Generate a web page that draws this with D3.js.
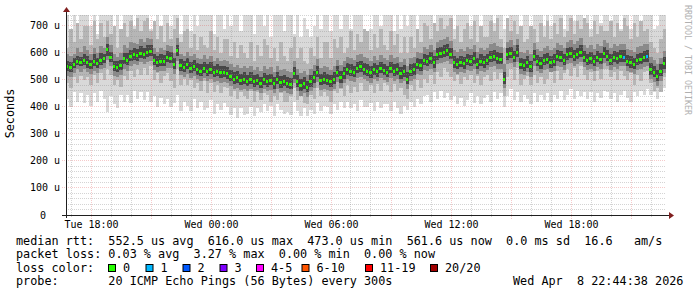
<!DOCTYPE html>
<html><head><meta charset="utf-8">
<script src="https://cdn.jsdelivr.net/npm/d3@7"></script>
<style>
body{margin:0;background:#fff}
svg{display:block}
text{font-family:"DejaVu Sans Mono",monospace;white-space:pre}
</style>
</head><body>
<svg id="c" width="697" height="297"></svg>
<script>
// ---- data: one value per 10-minute step, Tue 16:45 .. Wed 22:45 (microseconds) ----
const med = [
550,548,560,572,568,575, 565,558,570,562,575,580, 616,585,552,548,556,580, 575,590,596,592,600,598,
605,608,575,568,572,570, 585,582,560,610,555,548, 560,545,552,540,535,545, 535,542,530,535,528,530,
525,515,505,510,500,505, 498,505,495,500,490,502, 495,500,488,505,492,498, 490,485,527,495,480,488,
475,495,510,530,500,505, 500,495,505,530,510,525, 540,535,530,545,550,540, 535,528,540,532,545,538,
530,545,535,540,525,532, 505,535,540,560,555,575, 570,580,565,595,600,605, 610,598,565,560,568,562,
575,570,580,560,572,565, 575,585,590,580,578,505, 595,600,585,605,560,555, 565,550,590,570,562,575,
578,565,572,590,585,575, 595,600,590,598,605,585, 575,580,570,585,578,600, 590,575,585,580,588,587,
570,565,560,575,578,585, 588,540,530,515,535,562];
const coreHi = [
570,565,582,590,585,598, 588,575,595,580,600,598, 635,605,572,570,575,600, 600,612,620,615,625,620,
628,630,598,590,595,592, 608,605,582,630,578,570, 582,568,575,562,558,568, 558,565,552,558,550,552,
548,538,528,532,522,528, 520,528,518,522,512,525, 518,522,510,528,515,520, 512,508,548,518,502,510,
498,518,532,552,522,528, 522,518,528,552,532,548, 562,558,552,568,572,562, 558,550,562,555,568,560,
552,568,558,562,548,555, 530,558,562,582,578,598, 592,602,588,618,622,628, 632,620,588,582,590,585,
598,592,602,582,595,588, 598,608,612,602,600,530, 618,622,608,628,582,578, 588,572,612,592,585,598,
600,588,595,612,608,598, 618,622,612,620,628,608, 598,602,592,608,600,622, 612,598,608,602,610,610,
592,588,582,598,600,608, 610,562,552,538,558,585];
const coreLo = [
532,530,545,555,550,556, 545,540,552,545,555,562, 590,565,535,530,538,560, 555,570,575,572,580,578,
585,588,555,548,552,550, 565,562,540,588,535,530, 540,525,532,520,515,525, 515,522,510,515,508,510,
505,495,485,490,480,485, 478,485,475,480,470,482, 475,480,468,485,472,478, 470,465,505,475,460,468,
455,475,490,510,480,485, 480,475,485,510,490,505, 520,515,510,525,530,520, 515,508,520,512,525,518,
510,525,515,520,505,512, 485,515,520,540,535,555, 550,560,545,575,580,585, 590,578,545,540,548,542,
555,550,560,540,552,545, 555,565,570,560,558,485, 575,580,565,585,540,535, 545,530,570,550,542,555,
558,545,552,570,565,555, 575,580,570,578,585,565, 555,560,550,565,558,580, 570,555,565,560,568,567,
550,545,540,555,558,565, 568,520,510,495,515,542];
const quartHi = [
595,590,598,620,605,625, 610,595,620,600,625,618, 660,630,595,585,600,628, 620,640,638,635,650,640,
655,650,620,605,618,612, 630,625,600,655,598,590, 605,588,598,580,578,592, 578,590,572,582,570,575,
572,558,548,555,545,552, 545,550,538,548,535,550, 540,548,530,552,538,542, 535,530,572,540,525,532,
520,540,555,578,545,550, 548,538,552,575,555,570, 585,580,575,592,598,585, 582,572,588,575,592,582,
575,592,580,585,568,578, 552,580,585,605,600,622, 615,628,610,642,648,652, 658,645,612,605,615,608,
622,615,628,605,618,610, 620,632,638,625,622,560, 642,648,630,652,605,600, 610,595,638,615,608,620,
625,610,618,638,630,620, 642,648,635,645,655,630, 620,628,615,632,625,648, 638,620,632,625,635,632,
615,610,605,622,625,632, 635,585,575,560,582,608];
const quartLo = [
515,510,525,540,530,540, 528,522,535,525,540,545, 575,550,515,510,520,542, 535,552,560,555,565,560,
565,570,538,530,535,532, 545,545,522,570,518,510, 522,508,515,502,498,508, 498,505,492,498,490,494,
488,478,468,472,462,468, 460,468,458,462,452,465, 458,462,450,468,455,460, 452,448,490,458,442,450,
438,458,472,492,462,468, 462,458,468,492,472,488, 502,498,492,508,512,502, 498,490,502,495,508,500,
492,508,498,502,488,495, 468,498,502,522,518,538, 532,542,528,558,562,568, 572,560,528,522,530,525,
538,532,542,522,535,528, 538,548,552,542,540,470, 558,562,548,568,522,518, 528,512,552,532,525,538,
540,528,535,552,548,538, 558,562,552,560,568,548, 538,542,532,548,540,562, 552,538,548,542,550,550,
532,528,522,538,540,548, 550,502,492,478,498,525];
const midHi = [
620,690,640,710,650,700, 700,630,720,650,710,660, 720,670,700,620,690,710, 660,720,690,730,680,720,
730,680,720,650,700,640, 710,650,690,730,640,680, 690,620,670,610,660,630, 620,680,610,660,600,650,
650,590,640,580,630,600, 580,640,570,630,590,650, 630,580,620,570,640,590, 570,620,660,580,620,570,
560,620,590,660,580,640, 640,580,650,620,660,600, 620,680,610,670,640,690, 680,610,670,620,690,630,
610,680,630,670,600,660, 600,660,620,690,640,710, 700,650,710,680,730,690, 700,730,650,700,640,690,
710,650,720,640,700,660, 660,720,680,730,650,620, 730,680,720,670,700,640, 650,700,690,640,710,660,
720,650,710,670,730,660, 680,730,670,720,690,730, 710,660,720,670,700,680, 680,720,660,710,680,730,
700,650,710,660,720,680, 690,640,620,600,650,690];
const midLo = [
490,470,510,490,515,500, 510,480,520,490,525,500, 540,520,480,500,475,515, 500,535,510,540,520,545,
520,550,500,525,490,515, 525,495,470,540,480,505, 480,500,470,490,460,495, 450,490,455,480,450,475,
470,440,460,430,455,440, 430,460,420,455,425,450, 445,420,440,425,450,420, 420,440,470,425,440,415,
410,445,430,470,440,455, 440,420,460,450,465,440, 480,450,475,455,490,460, 460,480,450,485,460,490,
480,455,485,460,470,445, 430,480,460,500,470,505, 490,520,485,530,510,545, 530,510,495,520,485,510,
500,520,490,515,480,510, 520,495,530,505,525,440, 510,540,500,545,480,505, 515,480,520,490,510,485,
505,530,490,535,500,525, 540,515,545,510,550,520, 500,530,495,535,505,540, 540,510,530,500,535,515,
500,525,480,520,495,530, 535,490,460,470,455,510];
const maxPing = [
760,680,790,690,745,800, 780,700,810,670,740,790, 800,770,690,750,670,780, 770,800,700,740,790,810,
820,690,700,770,680,760, 780,700,800,740,670,750, 770,680,760,700,745,780, 760,790,670,770,750,690,
770,700,760,790,680,780, 750,780,670,760,790,700, 770,660,760,800,745,680, 740,780,670,760,660,730,
690,660,700,760,690,770, 750,680,780,760,690,800, 780,690,770,810,760,680, 670,690,760,790,700,770,
760,790,680,770,690,750, 700,760,780,690,790,800, 790,810,700,800,780,820, 810,790,690,780,740,770,
780,700,800,750,680,790, 770,800,710,760,780,690, 700,790,810,770,700,800, 780,690,800,770,790,700,
800,700,790,810,760,690, 790,810,720,800,820,700, 780,690,790,810,710,800, 790,700,800,760,690,810,
770,690,780,790,700,800, 780,760,690,700,750,770];
const minPing = [
430,400,455,420,450,415, 445,405,450,420,460,430, 380,440,410,395,445,420, 445,415,460,430,455,425,
455,420,440,400,435,410, 430,400,415,445,385,420, 405,385,430,395,420,390, 395,425,375,410,390,415,
400,370,395,360,395,370, 375,400,365,395,380,410, 385,405,365,410,390,375, 380,370,420,385,365,395,
365,390,375,415,385,405, 400,375,410,390,420,395, 420,395,410,385,425,400, 400,415,385,420,395,410,
410,385,420,395,375,405, 390,420,400,430,410,440, 445,420,455,430,460,435, 450,425,440,410,435,405,
425,450,415,440,410,435, 445,420,455,430,450,400, 440,465,425,455,420,445, 430,410,450,420,445,425,
450,420,445,430,460,425, 445,465,430,460,440,455, 430,455,420,450,435,460, 455,430,450,420,445,460,
435,420,455,440,460,445, 465,445,455,430,460,470];
const lossSteps  = [167, 174];
const lossCounts = [1, 1];
const yTickValues = [0,100,200,300,400,500,600,700];
const yTickLabels = ["0","100 u","200 u","300 u","400 u","500 u","600 u","700 u"];
const lossLabels = ["0","1","2","3","4-5","6-10","11-19","20/20"];
const lossColors = ["#26ff00","#00b8ff","#0059ff","#7e00ff","#ff00ff","#ff5500","#ff0000","#a00000"];
const lossUpper  = [0,1,2,3,5,10,19,20];
const legendLines = [
 "median rtt:  552.5 us avg  616.0 us max  473.0 us min  561.6 us now  0.0 ms sd  16.6   am/s",
 "packet loss: 0.03 % avg  3.27 % max  0.00 % min  0.00 % now",
 "loss color:",
 "probe:       20 ICMP Echo Pings (56 Bytes) every 300s"
];
const stampText = "Wed Apr  8 22:44:38 2026";
const watermark = "RRDTOOL / TOBI OETIKER";
const yTitle = "Seconds";

// ---- layout ----
const L=66, R=666, T=15, B=215;
const t0 = new Date(2026,3,7,16,45,0);
const stepMs = 10*60*1000;
const n = med.length;
const t1 = new Date(+t0 + n*stepMs);
const x = d3.scaleTime().domain([t0,t1]).range([L,R]);
const y = d3.scaleLinear().domain([0,740.7]).range([B,T]);
const svg = d3.select("#c");
svg.append("rect").attr("width",697).attr("height",297).attr("fill","#fff");
svg.append("clipPath").attr("id","pc").append("rect").attr("x",L).attr("y",T).attr("width",R-L).attr("height",B-T);
const g = svg.append("g").attr("clip-path","url(#pc)").attr("shape-rendering","crispEdges");
const times = d3.range(n+1).map(i=>new Date(+t0+i*stepMs));
const k = i=>Math.min(i,n-1);
function band(lo,hi,color){
  const a = d3.area().curve(d3.curveStepAfter)
    .x(i=>x(times[i])).y0(i=>y(lo[k(i)])).y1(i=>y(hi[k(i)]));
  g.append("path").attr("d",a(d3.range(n+1))).attr("fill",color);
}
band(minPing,maxPing,"#d9d9d9");
band(midLo,midHi,"#b6b6b6");
band(quartLo,quartHi,"#8a8a8a");
band(coreLo,coreHi,"#474747");
// median
function lossColor(i){
  const j = lossSteps.indexOf(i);
  if(j<0) return lossColors[0];
  const c = lossCounts[j];
  return lossColors[lossUpper.findIndex(u=>c<=u)];
}
g.selectAll("rect.med").data(d3.range(n)).enter().append("rect")
  .attr("x",i=>x(times[i])).attr("width",i=>x(times[i+1])-x(times[i])-1)
  .attr("y",i=>Math.round(y(med[i]))-1).attr("height",3)
  .attr("fill",i=>lossColor(i));

// grid (on top, faint dotted)
const grid = svg.append("g");
const minorCol="rgba(143,143,143,0.38)", majorCol="rgba(222,80,80,0.3)";
d3.range(20,741,20).filter(v=>v%100!==0).forEach(v=>{
  const yy=Math.floor(y(v))+0.5;
  grid.append("line").attr("x1",L).attr("x2",R).attr("y1",yy).attr("y2",yy)
   .attr("stroke",minorCol).attr("stroke-dasharray","1,1");
});
yTickValues.filter(v=>v>0).forEach(v=>{
  const yy=Math.floor(y(v))+0.5;
  grid.append("line").attr("x1",L-4).attr("x2",R).attr("y1",yy).attr("y2",yy)
   .attr("stroke",majorCol).attr("stroke-dasharray","1,1");
});
x.ticks(d3.timeHour.every(1)).forEach(t=>{
  const xx=Math.floor(x(t))+0.5;
  const major = t.getHours()%3===0;
  grid.append("line").attr("x1",xx).attr("x2",xx).attr("y1",major?B+4:B+2).attr("y2",T)
   .attr("stroke",major?majorCol:minorCol).attr("stroke-dasharray","1,1");
});

// axes
const ax = svg.append("g");
ax.append("line").attr("x1",62).attr("x2",670).attr("y1",B+0.5).attr("y2",B+0.5).attr("stroke","#1f1f1f");
ax.append("line").attr("x1",L+0.5).attr("x2",L+0.5).attr("y1",B+3).attr("y2",10).attr("stroke","#1f1f1f");
ax.append("path").attr("d",`M${L-3},${12}L${L+4},${12}L${L+0.5},${7}Z`).attr("fill","#801f1f");
ax.append("path").attr("d",`M669,${B-3}L669,${B+4}L674,${B+0.5}Z`).attr("fill","#801f1f");

// y labels
yTickValues.forEach((v,i)=>{
  const t = svg.append("text").attr("y",Math.floor(y(v))+4).attr("font-size","10px").attr("fill","#000").text(yTickLabels[i]);
  if(v===0) t.attr("x",43).attr("text-anchor","middle");
  else t.attr("x",60).attr("text-anchor","end");
});
// x labels
const fmt = d3.timeFormat("%a %H:%M");
x.ticks(d3.timeHour.every(6)).forEach(t=>{
  svg.append("text").attr("x",Math.floor(x(t))+0.5).attr("y",228).attr("text-anchor","middle")
   .attr("font-size","10px").attr("fill","#000").text(fmt(t));
});
// y title
svg.append("text").attr("transform","translate(14,113.5) rotate(-90)").attr("text-anchor","middle")
  .attr("font-size","11.8px").attr("fill","#000").text(yTitle);
// watermark
svg.append("text").attr("transform","translate(684.5,5) rotate(90)").attr("font-size","8.3px")
  .attr("fill","#b0b0b0").text(watermark);

// legend
const base=[244.5,258,271.5,285];
legendLines.forEach((s,i)=>{
  svg.append("text").attr("x",16).attr("y",base[i]).attr("font-size","11.8px").attr("fill","#000")
    .attr("xml:space","preserve").text(s);
});
const boxX=[108,145.5,182.5,219.5,256,301.5,365,430];
lossLabels.forEach((lab,i)=>{
  svg.append("rect").attr("x",boxX[i]+0.5).attr("y",264.5).attr("width",7).attr("height",7)
    .attr("fill",lossColors[i]).attr("stroke","#000");
  svg.append("text").attr("x",boxX[i]+15).attr("y",base[2]).attr("font-size","11.8px").attr("fill","#000").text(lab);
});
svg.append("text").attr("x",513).attr("y",base[3]).attr("font-size","11.8px").attr("fill","#000")
  .attr("xml:space","preserve").text(stampText);
</script>
</body></html>
